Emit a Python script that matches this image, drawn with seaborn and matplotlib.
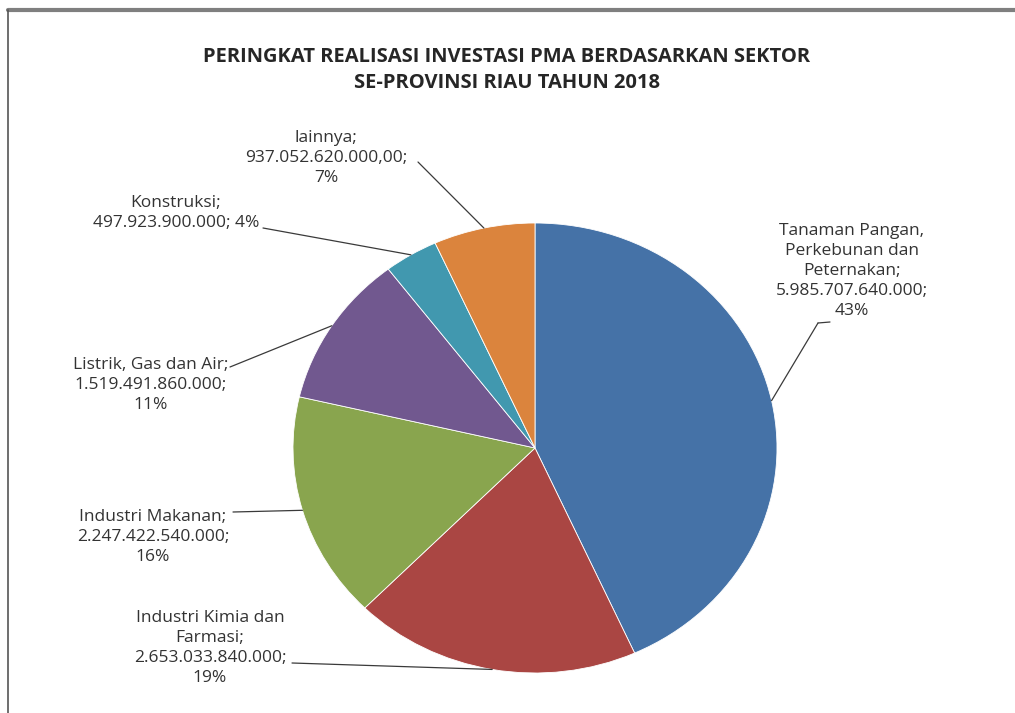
import matplotlib
matplotlib.use("Agg")
import numpy as np
import matplotlib.pyplot as plt
import seaborn as sns
from matplotlib.lines import Line2D

# Data (Rupiah)
sektor = ["Tanaman Pangan, Perkebunan dan Peternakan", "Industri Kimia dan Farmasi",
          "Industri Makanan", "Listrik, Gas dan Air", "Konstruksi", "lainnya"]
nilai = [5985707640000, 2653033840000, 2247422540000, 1519491860000, 497923900000, 937052620000]
warna = ["#4572A7", "#AA4643", "#89A54E", "#71588F", "#4198AF", "#DB843D"]

# label text as broken in the original chart
label_fmt = [
    "Tanaman Pangan,\nPerkebunan dan\nPeternakan;\n{v};\n{p}%",
    "Industri Kimia dan\nFarmasi;\n{v};\n{p}%",
    "Industri Makanan;\n{v};\n{p}%",
    "Listrik, Gas dan Air;\n{v};\n{p}%",
    "Konstruksi;\n{v}; {p}%",
    "lainnya;\n{v},00;\n{p}%",
]

judul = "PERINGKAT REALISASI INVESTASI PMA BERDASARKAN SEKTOR\nSE-PROVINSI RIAU TAHUN 2018"

sns.set_theme(style="white")
plt.rcParams["font.family"] = ["Open Sans", "DejaVu Sans"]

W, H = 1015, 713


def px(x, y):
    # pixel in the reference (top-left origin) -> figure fraction
    return x / W, 1 - y / H


fig = plt.figure(figsize=(W / 100, H / 100), dpi=100)
fig.patch.set_facecolor("white")

# pie area
ax = fig.add_axes([293 / W, 1 - 673 / H, 484 / W, 450 / H])
wedges, _ = ax.pie(nilai, colors=warna, startangle=90, counterclock=False, radius=1,
                   wedgeprops=dict(edgecolor="white", linewidth=0.6))
ax.set_aspect("auto")
ax.set_xlim(-1, 1)
ax.set_ylim(-1, 1)
ax.axis("off")

fig.text(*px(507, 70), judul, ha="center", va="center", fontsize=14.5,
         fontweight="bold", color="#262626", linespacing=1.38)

# label positions (text centre) and where each leader line leaves the text
label_pos = [(852, 271), (210, 648), (153, 537), (151, 385), (176, 213), (326, 158)]
line_from = [(818, 323), (292, 663), (233, 512), (230, 367), (263, 228), (418, 162)]

total = sum(nilai)
for i, w in enumerate(wedges):
    v = f"{nilai[i]:,}".replace(",", ".")
    p = round(nilai[i] / total * 100)
    fig.text(*px(*label_pos[i]), label_fmt[i].format(v=v, p=p), ha="center", va="center",
             fontsize=12.5, color="#333333", linespacing=1.33)
    ang = np.deg2rad((w.theta1 + w.theta2) / 2)
    ax.annotate("", xy=(np.cos(ang), np.sin(ang)), xycoords="data",
                xytext=px(*line_from[i]), textcoords="figure fraction",
                annotation_clip=False,
                arrowprops=dict(arrowstyle="-", color="#3a3a3a", lw=0.9,
                                shrinkA=0, shrinkB=0))

# small elbow on the first leader line
fig.add_artist(Line2D([818 / W, 830 / W], [1 - 323 / H, 1 - 322 / H], color="#3a3a3a", lw=0.9))

# frame edges visible in the screenshot
fig.add_artist(Line2D([8 / W, 1], [1 - 10 / H, 1 - 10 / H], color="#7f7f7f", lw=3))
fig.add_artist(Line2D([8 / W, 8 / W], [0, 1 - 10 / H], color="#555555", lw=1.2))

fig.savefig("out.png", dpi=100)
